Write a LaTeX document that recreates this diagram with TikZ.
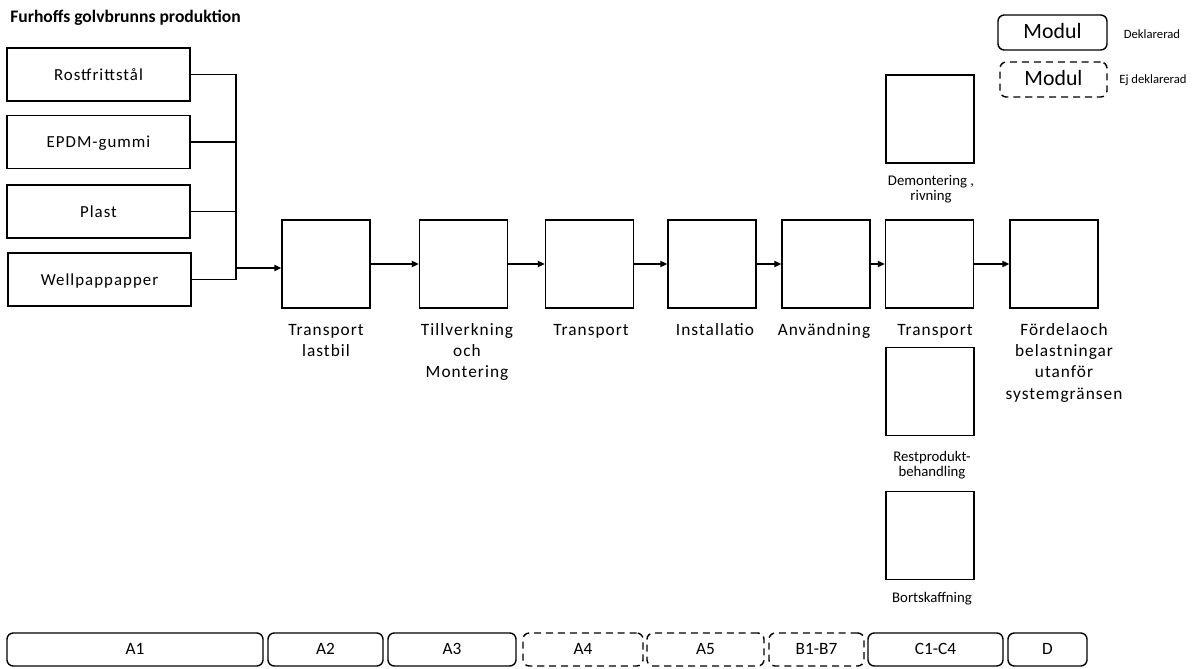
\documentclass[tikz,border=0pt]{standalone}
\usepackage{fontspec}
\setmainfont{Carlito}
\newfontfamily\spaced[LetterSpace=6]{Carlito}
\usepackage{tikz}
\usetikzlibrary{arrows.meta}
\tikzset{
  box/.style={draw, line width=1pt, minimum width=2.2cm, minimum height=2.2cm, inner sep=0pt},
  inbox/.style={draw, line width=1pt, minimum width=4.575cm, minimum height=1.325cm, text height=0.8em, text depth=0pt, font=\spaced\fontsize{12}{15}\selectfont},
  lbl/.style={align=center, inner sep=0pt, anchor=north, font=\spaced\fontsize{12.3}{15.2}\selectfont},
  smalllbl/.style={align=center, inner sep=0pt, anchor=north, font=\fontsize{10.5}{11}\selectfont},
  modbox/.style={draw, line width=1pt, rounded corners=4.5pt, minimum height=0.825cm, inner sep=0pt, text height=0.65em, text depth=0pt, font=\fontsize{12.3}{14}\selectfont},
  ejmod/.style={modbox, dash pattern=on 5pt off 3.5pt},
  feed/.style={line width=0.8pt},
  flow/.style={line width=0.8pt, -{Triangle[length=5pt,width=4.5pt]}},
}

\begin{document}
\begin{tikzpicture}[x=0.025cm, y=-0.025cm]
			%%%%% START %%%%%
			\useasboundingbox (0,0) rectangle (1199,669);
			
			\node[anchor=north west, inner sep=0pt, font=\bfseries\fontsize{12.5}{14}\selectfont] (title) at (10,10) {Furhoffs golvbrunns produktion};
			
			% legend
			\node[modbox, minimum width=2.725cm, minimum height=0.875cm, text height=0.8em, font=\fontsize{15.5}{18}\selectfont] (mdecl) at (1052.5,32.5) {Modul};
			\node[ejmod, minimum width=2.675cm, minimum height=0.875cm, text height=0.8em, font=\fontsize{15.5}{18}\selectfont] (mej) at (1053.5,79.5) {Modul};
			\node[font=\fontsize{9}{11}\selectfont] (tdecl) at (1152,34) {Deklarerad};
			\node[font=\fontsize{9}{11}\selectfont] (tej) at (1153,80) {Ej deklarerad};
			
			% raw materials
			\node[inbox] (rost) at (98.5,74.5) {Rostfrittstål};
			\node[inbox] (epdm) at (98.5,142) {EPDM-gummi};
			\node[inbox] (plast) at (98.5,211.5) {Plast};
			\node[inbox] (well) at (99.5,279.5) {Wellpappapper};
			
			% main chain
			\node[box] (tl) at (326,264) {};
			\node[box] (tm) at (463.5,264) {};
			\node[box] (tr1) at (589.5,264) {};
			\node[box] (inst) at (712,264) {};
			\node[box] (anv) at (826,264) {};
			\node[box] (tr2) at (929.5,264) {};
			\node[box] (fd) at (1054,264) {};
			
			\node[lbl] (tlL) at (326,320) {\strut Transport\\lastbil};
			\node[lbl] (tmL) at (467,320) {\strut Tillverkning\\och\\Montering};
			\node[lbl] (tr1L) at (591,320) {\strut Transport};
			\node[lbl] (instL) at (715,320) {\strut Installatio};
			\node[lbl] (anvL) at (824,320) {\strut Användning};
			\node[lbl] (tr2L) at (935,320) {\strut Transport};
			\node[lbl] (fdL) at (1064,320) {\strut Fördelaoch\\belastningar\\utanför\\systemgränsen};
			
			% end of life
			\node[box] (dem) at (930,119) {};
			\node[box] (rest) at (930,391.5) {};
			\node[box] (bort) at (930,535.5) {};
			\node[smalllbl] (demL) at (931,174) {\strut Demontering ,\\rivning};
			\node[smalllbl] (restL) at (932,450) {\strut Restprodukt-\\behandling};
			\node[smalllbl] (bortL) at (932,591) {\strut Bortskaffning};
			
			% feeds into transport
			\coordinate (jn) at (236,268);
			\draw[feed] (rost.east) -| (jn);
			\draw[feed] (epdm.east) -- (epdm.east -| jn);
			\draw[feed] (plast.east) -- (plast.east -| jn);
			\draw[feed] (well.east) -| (jn);
			\draw[line width=1.8pt, -{Triangle[length=5pt,width=4.5pt]}] (epdm.east -| jn) -- (jn) -- (tl.west |- jn);
			
			\draw[flow] (tl) -- (tm);
			\draw[flow] (tm) -- (tr1);
			\draw[flow] (tr1) -- (inst);
			\draw[flow] (inst) -- (anv);
			\draw[flow] (anv) -- (tr2);
			\draw[flow] (tr2) -- (fd);
			
			% modules
			\node[modbox, minimum width=6.4cm] (a1) at (135,649.5) {A1};
			\node[modbox, minimum width=2.875cm] (a2) at (325.5,649.5) {A2};
			\node[modbox, minimum width=3.2cm] (a3) at (452,649.5) {A3};
			\node[ejmod, minimum width=3.0cm] (a4) at (583,649.5) {A4};
			\node[ejmod, minimum width=2.925cm] (a5) at (705.5,649.5) {A5};
			\node[ejmod, minimum width=2.375cm] (b) at (816.5,649.5) {B1-B7};
			\node[modbox, minimum width=3.375cm] (c) at (935.5,649.5) {C1-C4};
			\node[modbox, minimum width=1.975cm] (d) at (1047.5,649.5) {D};
			
			%%%%% END %%%%%
\end{tikzpicture}
\end{document}
